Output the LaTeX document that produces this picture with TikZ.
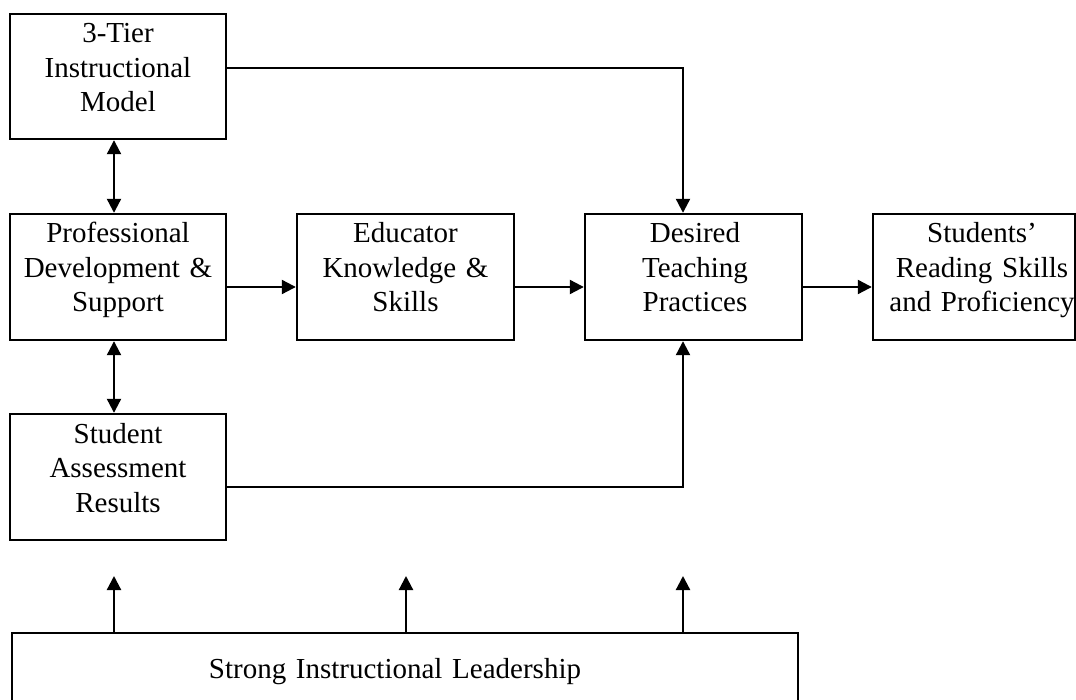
\documentclass[tikz,border=0pt]{standalone}
\usepackage{fontspec}
\setmainfont{Liberation Serif}
\usetikzlibrary{arrows.meta,calc}
\begin{document}
\begin{tikzpicture}[x=1pt,y=-1pt,
  boxnode/.style={draw,line width=2.4pt,rectangle,inner sep=0pt},
  txt/.style={inner sep=0pt,anchor=base,align=center,text width=300pt,
    font=\fontsize{29}{34.5}\selectfont},
  conn/.style={line width=2.2pt},
  arr/.style={conn,-{Triangle[length=14pt,width=14pt]}},
  darr/.style={conn,{Triangle[length=14pt,width=14pt]}-{Triangle[length=14pt,width=14pt]}}]
\clip (0,0) rectangle (1076,700);
% boxes
\node[boxnode,minimum width=216pt,minimum height=125pt] (tier) at (118,76.5) {};
\node[boxnode,minimum width=216pt,minimum height=126pt] (pd) at (118,277) {};
\node[boxnode,minimum width=217pt,minimum height=126pt] (edu) at (405.5,277) {};
\node[boxnode,minimum width=217pt,minimum height=126pt] (des) at (693.5,277) {};
\node[boxnode,minimum width=202pt,minimum height=126pt] (stu) at (974,277) {};
\node[boxnode,minimum width=216pt,minimum height=126pt] (sar) at (118,477) {};
\node[boxnode,minimum width=786pt,minimum height=90pt] (lead) at (405,678) {};
% texts
\node[txt] (ttier) at (118,43) {3-Tier\\Instructional\\Model};
\node[txt] (tpd) at (118,243) {Professional\\Development \&\\Support};
\node[txt] (tedu) at (405.5,243) {Educator\\Knowledge \&\\Skills};
\node[txt] (tdes) at (695,243) {Desired\\Teaching\\Practices};
\node[txt] (tstu) at (982,243) {Students’\\Reading Skills\\and Proficiency};
\node[txt] (tsar) at (118,443) {Student\\Assessment\\Results};
\node[txt,text width=600pt] (tlead) at (395,678) {Strong Instructional Leadership};
% helper coordinates
\coordinate (cA) at (114,0);
\coordinate (cB) at (406,0);
\coordinate (cC) at (683,0);
\coordinate (rmid) at (0,287);
\coordinate (rtop) at (0,68);
\coordinate (rsar) at (0,487);
\coordinate (rtip) at (0,576);
% connectors
\draw[darr] (cA |- tier.south) -- (cA |- pd.north);
\draw[darr] (cA |- pd.south) -- (cA |- sar.north);
\draw[arr] (pd.east |- rmid) -- (edu.west |- rmid);
\draw[arr] (edu.east |- rmid) -- (des.west |- rmid);
\draw[arr] (des.east |- rmid) -- (stu.west |- rmid);
\draw[arr] (tier.east |- rtop) -- (cC |- rtop) -- (cC |- des.north);
\draw[arr] (sar.east |- rsar) -- (cC |- rsar) -- (cC |- des.south);
\draw[arr] (cA |- lead.north) -- (cA |- rtip);
\draw[arr] (cB |- lead.north) -- (cB |- rtip);
\draw[arr] (cC |- lead.north) -- (cC |- rtip);
\end{tikzpicture}
\end{document}
